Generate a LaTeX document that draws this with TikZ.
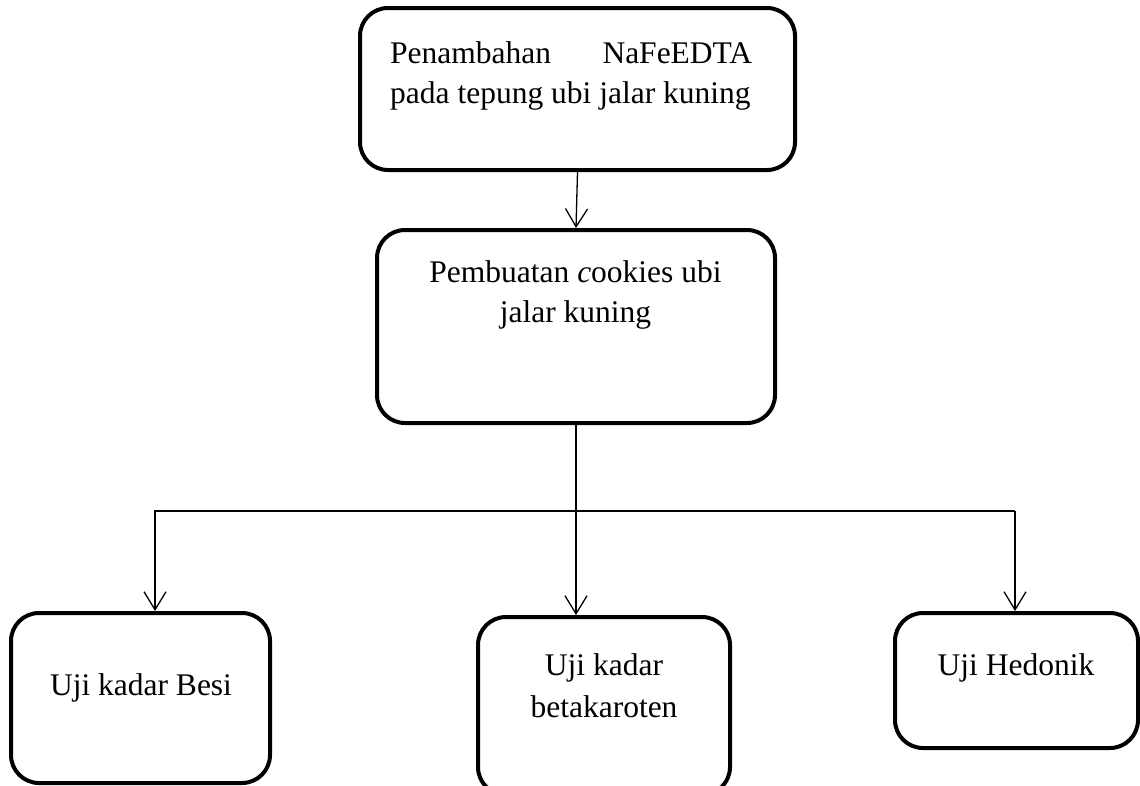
\documentclass[tikz,border=0pt]{standalone}
\usepackage{fontspec}
\setmainfont{Liberation Serif}
\usepackage{tikz}
\usetikzlibrary{arrows.meta}
\tikzstyle{block} = [rectangle, rounded corners=28pt, line width=4pt, draw=black]
\tikzstyle{txt} = [inner sep=0pt, font=\fontsize{31.5}{40}\selectfont]
\tikzstyle{arrow} = [line width=1.3pt, -{Straight Barb[length=18pt, width=22pt, line width=1.3pt]}]

\begin{document}
\begin{tikzpicture}[x=1pt, y=-1pt]
        \useasboundingbox (0,0) rectangle (1140,785);
        \node (tambah) [block, minimum width=435pt, minimum height=162pt] at (577.5,89) {};
        \node (tambahtxt) [txt, text width=362pt, align=justify, anchor=base west] at (390,63) {Penambahan\hfill NaFeEDTA\\pada tepung ubi jalar kuning};
        \node (buat) [block, minimum width=398pt, minimum height=193pt] at (576,326.5) {};
        \node (buattxt) [txt, align=center, anchor=base] at (575.5,322) {Pembuatan \textit{c}ookies ubi\\jalar kuning};
        \node (besi) [block, minimum width=259pt, minimum height=170pt] at (140.5,698) {};
        \node (besitxt) [txt, anchor=base] at (141,695) {Uji kadar Besi};
        \node (beta) [block, minimum width=252pt, minimum height=178pt] at (604,706) {};
        \node (betatxt) [txt, align=center, anchor=base] at (604,717) {Uji kadar\\[2pt]betakaroten};
        \node (hedonik) [block, minimum width=243pt, minimum height=135pt] at (1016.5,680.5) {};
        \node (hedoniktxt) [txt, anchor=base] at (1016,675) {Uji Hedonik};
        \coordinate (cabangL) at (155,513);
        \coordinate (cabangR) at (1015,511);
        \draw [arrow] (tambah.south) -- (buat.north);
        \draw [arrow] (buat.south) -- (buat.south |- beta.north);
        \draw [arrow] (cabangR) -- (cabangL |- cabangR) -- (cabangL |- besi.north);
        \draw [arrow] (cabangR) -- (cabangR |- hedonik.north);
    \end{tikzpicture}
\end{document}
